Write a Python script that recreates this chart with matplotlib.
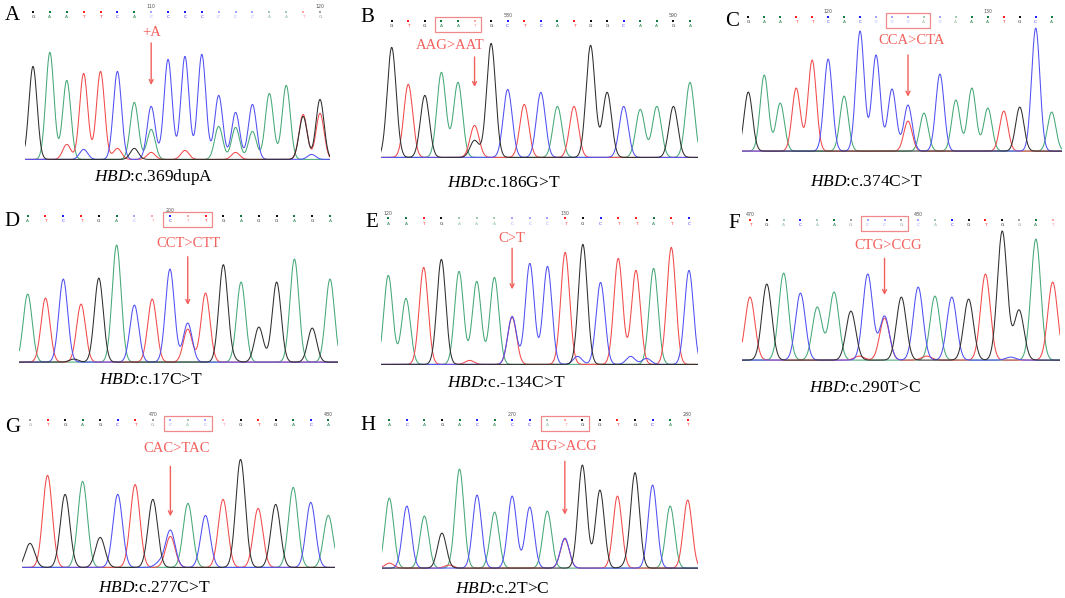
import numpy as np
import matplotlib.pyplot as plt
from matplotlib.patches import Rectangle

plt.rcParams["font.family"] = ["Liberation Serif", "DejaVu Serif"]
plt.rcParams["mathtext.fontset"] = "custom"
plt.rcParams["mathtext.it"] = "Liberation Serif:italic"
plt.rcParams["mathtext.rm"] = "Liberation Serif"

# ---- values (peak heights in px above baseline) ----
a_seq = "GAATTCACCCCCCCAATG"
a_peaks = [93, 107, 79, 86, 88, 88, 57, 53, 100, 103, 105, 64, 47, 55, 66, 74, 45, 60]
a_extra = [(2, "T", 15), (3, "C", 10), (5, "T", 11), (6, "G", 11), (7, "T", 7), (7, "A", 30),
           (9, "T", 9), (11, "A", 33), (12, "A", 32), (12, "T", 7), (13, "A", 28),
           (16, "G", 43), (17, "T", 46), (16.5, "C", 5)]
a_faint = [7, 11, 12, 13, 14, 15, 16, 17]
a_nums = {7: "110", 17: "120"}
a_note = "+A"
a_caption = ":c.369dupA"

b_seq = "GTGAATGCTCATGGCAAGA"
b_peaks = [110, 73, 62, 85, 75, 32, 114, 68, 53, 65, 51, 51, 112, 65, 51, 48, 51, 51, 75]
b_extra = [(5, "G", 17)]
b_faint = [5]
b_nums = {7: "580", 17: "590"}
b_note = "AAG>AAT"
b_caption = ":c.186G>T"

c_seq = "GAATTCACCCCACAAATGCA"
c_peaks = [59, 76, 48, 63, 91, 92, 55, 120, 96, 62, 46, 38, 77, 51, 63, 43, 40, 44, 123, 39]
c_extra = [(10, "T", 30)]
c_faint = [8, 9, 10, 11, 12, 13]
c_nums = {5: "120", 15: "130"}
c_note = "CCA>CTA"
c_caption = ":c.374C>T"

d_seq = "ATCTGACTCTTGAGGAGA"
d_peaks = [68, 64, 83, 58, 84, 117, 57, 63, 93, 33, 69, 97, 80, 35, 80, 103, 34, 83]
d_extra = [(9, "C", 39), (2.6, "G", 3), (11.5, "G", 3)]
d_faint = [6, 7, 9]
d_nums = {8: "200"}
d_note = "CCT>CTT"
d_caption = ":c.17C>T"

e_seq = "AATGAAACCCTGCTTATC"
e_peaks = [89, 66, 97, 105, 93, 83, 87, 48, 101, 98, 112, 120, 82, 106, 94, 96, 117, 94]
e_extra = [(7, "T", 47), (10.7, "C", 8), (13.7, "C", 8), (14.6, "C", 6), (4.6, "T", 4)]
e_faint = [4, 5, 6, 7, 8, 9]
e_nums = {0: "120", 10: "130"}
e_note = "C>T"
e_caption = ":c.-134C>T"

f_seq = "TGACAAGCCGCACGTGGAT"
f_peaks = [63, 76, 87, 67, 53, 68, 49, 86, 44, 63, 73, 64, 63, 61, 86, 129, 50, 121, 78]
f_extra = [(8, "T", 42), (6.5, "T", 4), (10.5, "T", 4), (15.5, "C", 3)]
f_faint = [2, 4, 6, 7, 8, 9, 10, 11, 16, 18]
f_nums = {0: "470", 10: "480"}
f_note = "CTG>CCG"
f_caption = ":c.290T>C"

g_seq = "GTGAGCTGCACTGTGACA"
g_peaks = [24, 92, 73, 86, 30, 73, 79, 68, 37, 64, 52, 68, 108, 59, 63, 80, 65, 52]
g_extra = [(8, "T", 31), (5.8, "T", 5), (7.4, "C", 5)]
g_faint = [0, 7, 8, 9, 10, 11]
g_nums = {7: "470", 17: "480"}
g_note = "CAC>TAC"
g_caption = ":c.277C>T"

h_seq = "ACAGACACCATGGTGCAT"
h_peaks = [70, 62, 52, 35, 99, 73, 56, 72, 61, 57, 29, 103, 78, 72, 95, 83, 62, 68]
h_extra = [(10, "C", 30), (0, "T", 5), (3.4, "T", 3), (13.5, "G", 3)]
h_faint = [9, 10]
h_nums = {7: "270", 17: "280"}
h_note = "ATG>ACG"
h_caption = ":c.2T>C"

# ---- layout (pixel positions in the 1065 x 598 figure) ----
W, H = 1065, 598
layout = {
    "A": dict(lab=(12, 15), bases=(33, 320), dot=12, span=(25, 330), base=160, sig=0.24,
              note=(151.7, 32), arrow=(7, 43, 85), cap=(154, 177), box=None),
    "B": dict(lab=(367.5, 17.5), bases=(391.7, 690), dot=20.7, span=(380.7, 698), base=158, sig=0.27,
              note=(450, 45.7), arrow=(5, 57, 87), cap=(504, 183), box=(3, 5)),
    "C": dict(lab=(731.7, 21), bases=(748.3, 1051.7), dot=16.7, span=(741.7, 1061.7), base=151.7,
              sig=0.26, note=(911.7, 40.7), arrow=(10, 55, 96.7), cap=(866.7, 181.7), box=(9, 11)),
    "D": dict(lab=(11.7, 221), bases=(27.7, 330), dot=215.7, span=(19.3, 338), base=362.7, sig=0.25,
              note=(188.3, 243.3), arrow=(9, 256.7, 305), cap=(150.7, 380), box=(8, 10)),
    "E": dict(lab=(371.7, 222.3), bases=(388.3, 689), dot=218.3, span=(381, 698.3), base=365,
              sig=0.25, note=(511.7, 238.3), arrow=(7, 248.3, 289.3), cap=(505.7, 383.3), box=None),
    "F": dict(lab=(734, 223.3), bases=(750, 1052.7), dot=220, span=(742.3, 1060), base=360.7,
              sig=0.29, note=(888.3, 245.7), arrow=(8, 258.3, 295), cap=(865, 387.7), box=(7, 9)),
    "G": dict(lab=(12.8, 427.3), bases=(30, 328.3), dot=419.7, span=(21.7, 335), base=568, sig=0.27,
              note=(176.7, 448.7), arrow=(8, 466.3, 516.3), cap=(154, 588), box=(8, 10)),
    "H": dict(lab=(368.3, 425.3), bases=(389.3, 687.7), dot=419.7, span=(381.7, 698.3), base=568.7,
              sig=0.25, note=(563.3, 446.3), arrow=(10, 461.3, 514.7), cap=(502.3, 588.7), box=(9, 11)),
}

panels = {
    "A": (a_seq, a_peaks, a_extra, a_faint, a_nums, a_note, a_caption),
    "B": (b_seq, b_peaks, b_extra, b_faint, b_nums, b_note, b_caption),
    "C": (c_seq, c_peaks, c_extra, c_faint, c_nums, c_note, c_caption),
    "D": (d_seq, d_peaks, d_extra, d_faint, d_nums, d_note, d_caption),
    "E": (e_seq, e_peaks, e_extra, e_faint, e_nums, e_note, e_caption),
    "F": (f_seq, f_peaks, f_extra, f_faint, f_nums, f_note, f_caption),
    "G": (g_seq, g_peaks, g_extra, g_faint, g_nums, g_note, g_caption),
    "H": (h_seq, h_peaks, h_extra, h_faint, h_nums, h_note, h_caption),
}

TRACE = {"A": "#46a877", "C": "#5050f2", "G": "#2e2e2e", "T": "#f24a4a"}
DOTS = {"A": "#127a3c", "C": "#1e1eff", "G": "#101010", "T": "#ff1e1e"}
NOTE = "#f2605c"

fig = plt.figure(figsize=(W / 100, H / 100), dpi=100)


def draw_panel(name, data, lay):
    seq, peaks, extra, faint, nums, note, caption = data
    n = len(seq)
    bx0, bx1 = lay["bases"]
    dx = (bx1 - bx0) / (n - 1)
    left, right = lay["span"]
    base = lay["base"]
    top = lay["dot"]
    sig = lay["sig"]
    ax = fig.add_axes([left / W, 1 - base / H, (right - left) / W, (base - top) / H])
    x0, x1 = (left - bx0) / dx, (right - bx0) / dx
    ax.set_xlim(x0, x1)
    ax.set_ylim(0, base - top)
    ax.axis("off")

    def py(y_px):
        return base - y_px

    # traces, one per dye channel
    xs = np.linspace(x0, x1, 1200)
    for ch in "ATCG":
        ys = np.zeros_like(xs) + 0.6
        for i, (b, h) in enumerate(zip(seq, peaks)):
            if b == ch:
                ys += h * np.exp(-0.5 * ((xs - i) / sig) ** 2)
        for i, b, h in extra:
            if b == ch:
                ys += h * np.exp(-0.5 * ((xs - i) / sig) ** 2)
        ax.plot(xs, ys, color=TRACE[ch], lw=0.75, solid_capstyle="round")

    # base call row
    for i, b in enumerate(seq):
        weak = i in faint
        ax.scatter(i, py(lay["dot"]), marker="s", s=4 if not weak else 2.2,
                   color=DOTS[b], alpha=0.4 if weak else 1, lw=0, clip_on=False)
        ax.text(i, py(lay["dot"] + 5.3), b, fontsize=3.2, family="DejaVu Sans",
                color=DOTS[b], alpha=0.45 if weak else 0.9, ha="center", va="center")
    for i, lab in nums.items():
        ax.text(i, py(lay["dot"] - 5.2), lab, fontsize=3.4, family="DejaVu Sans",
                color="#555555", ha="center", va="center")

    if lay["box"] is not None:
        i0, i1 = lay["box"]
        ax.add_patch(Rectangle((i0 - 0.38, py(lay["dot"] + 11)), i1 - i0 + 0.76, 15,
                               fill=False, edgecolor="#f08a8a", lw=0.9, clip_on=False))

    nx, ny = lay["note"]
    ax.text((nx - bx0) / dx, py(ny), note, fontsize=10.5, color=NOTE,
            ha="center", va="center")
    ai, ay0, ay1 = lay["arrow"]
    ax.annotate("", xy=(ai, py(ay1)), xytext=(ai, py(ay0)), annotation_clip=False,
                arrowprops=dict(arrowstyle="->", color=NOTE, lw=1.0,
                                mutation_scale=7, shrinkA=0, shrinkB=0))

    lx, ly = lay["lab"]
    fig.text(lx / W, 1 - ly / H, name, fontsize=15, ha="center", va="center")
    cx, cy = lay["cap"]
    fig.text(cx / W, 1 - cy / H, r"$\mathit{HBD}$" + caption, fontsize=12.5,
             ha="center", va="center")


for name in "ABCDEFGH":
    draw_panel(name, panels[name], layout[name])

fig.savefig("out.png", dpi=100)
